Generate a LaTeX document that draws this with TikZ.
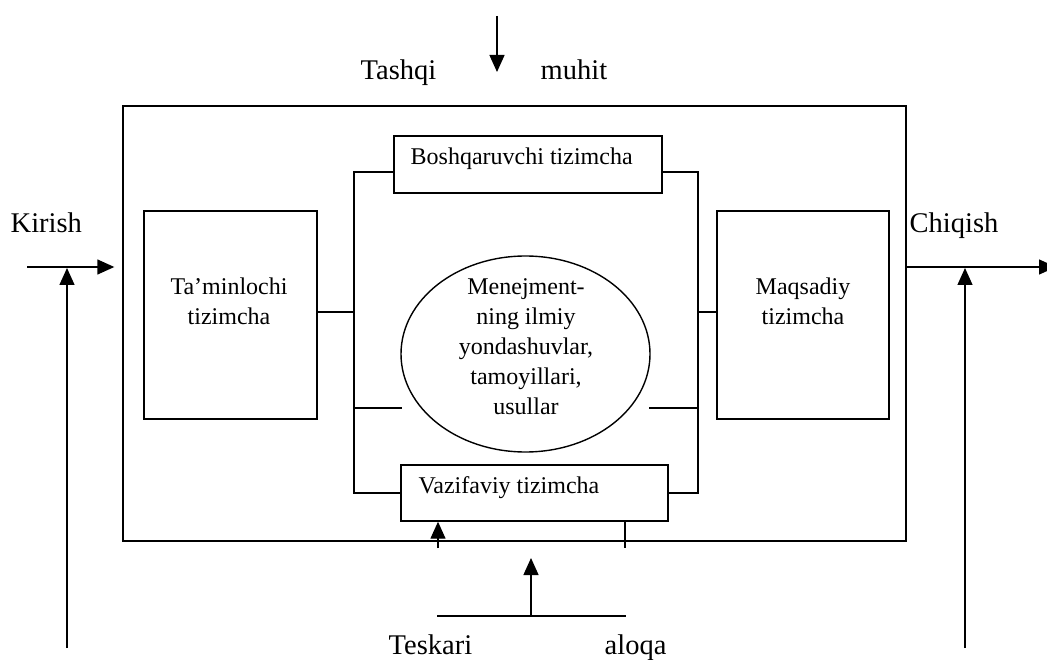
\documentclass[tikz,border=0pt]{standalone}
\usepackage{fontspec}
\setmainfont{Liberation Serif}
\usetikzlibrary{arrows.meta,shapes.geometric}
\tikzset{
  blok/.style={draw,line width=1.4pt,inner sep=0pt},
  big/.style={font=\fontsize{28.5}{34}\selectfont,inner sep=0pt},
  txt/.style={font=\fontsize{24}{30}\selectfont,inner sep=0pt,align=center},
  arr/.style={-{Triangle[length=17pt,width=15pt]}},
}
\begin{document}
\begin{tikzpicture}[x=1pt,y=-1pt,line width=1.4pt]
    \useasboundingbox (0,0) rectangle (1047,660);
    %% blocks
    \node[blok,minimum width=783,minimum height=435] (tizim) at (514.5,323.5) {};
    \node[blok,minimum width=173,minimum height=208] (taminl) at (230.5,315) {};
    \node[blok,minimum width=172,minimum height=208] (maqsad) at (803,315) {};
    \node[blok,minimum width=268,minimum height=57] (boshq) at (528,164.5) {};
    \node[blok,minimum width=267,minimum height=56] (vazif) at (534.5,493) {};
    \node[blok,ellipse,minimum width=249,minimum height=196] (menej) at (525.5,354) {};
    %% texts in blocks
    \node[txt] (taminlt) at (229,301.5) {Ta’minlochi\\tizimcha};
    \node[txt] (maqsadt) at (803,301.5) {Maqsadiy\\tizimcha};
    \node[txt] (menejt) at (526,347) {Menejment-\\ning ilmiy\\yondashuvlar,\\tamoyillari,\\usullar};
    \node[txt,anchor=base west] (boshqt) at (410,165) {Boshqaruvchi tizimcha};
    \node[txt,anchor=base west] (vazift) at (418,493) {Vazifaviy tizimcha};
    %% labels
    \node[big,anchor=base west] (tashqi) at (360,80) {Tashqi};
    \node[big,anchor=base west] (muhit) at (540,80) {muhit};
    \node[big,anchor=base west] (kirish) at (10,233) {Kirish};
    \node[big,anchor=base west] (chiqish) at (909,233) {Chiqish};
    \node[big,anchor=base west] (teskari) at (388,654) {Teskari};
    \node[big,anchor=base west] (aloqa) at (604,654) {aloqa};
    %% inner links
    \coordinate (bl1) at (354,172); \coordinate (bl2) at (354,493);
    \coordinate (br1) at (698,172); \coordinate (br2) at (698,493);
    \coordinate (tl) at (354,312); \coordinate (mr) at (698,312);
    \coordinate (el) at (402,408); \coordinate (er) at (649,408);
    \draw (boshq.west |- bl1) -- (bl1) -- (bl2) -- (vazif.west |- bl2);
    \draw (boshq.east |- br1) -- (br1) -- (br2) -- (vazif.east |- br2);
    \draw (taminl.east |- tl) -- (tl);
    \draw (mr) -- (maqsad.west |- mr);
    \draw (bl1 |- el) -- (el);
    \draw (er) -- (br1 |- er);
    %% input, output, environment
    \coordinate (env) at (497,16); \coordinate (envt) at (497,72);
    \draw[arr] (env) -- (envt);
    \coordinate (kin) at (27,267); \coordinate (kfb) at (67,648);
    \draw[arr,shorten >=8pt] (kin) -- (tizim.west |- kin);
    \draw[arr] (kfb) -- ([yshift=-1pt]kfb |- kin);
    \coordinate (chq) at (1056,267); \coordinate (cfb) at (965,648);
    \draw[arr] (tizim.east |- chq) -- (chq);
    \draw[arr] (cfb) -- ([yshift=-1pt]cfb |- chq);
    %% feedback
    \coordinate (vz1) at (438,548); \coordinate (vz2) at (625,548);
    \draw[arr] (vz1) -- (vz1 |- vazif.south);
    \draw (vz2 |- vazif.south) -- (vz2);
    \coordinate (fbl) at (437,616); \coordinate (fbr) at (626,616);
    \coordinate (fbm) at (531,616); \coordinate (fbt) at (531,558);
    \draw (fbl) -- (fbr);
    \draw[arr] (fbm) -- (fbt);
\end{tikzpicture}
\end{document}
